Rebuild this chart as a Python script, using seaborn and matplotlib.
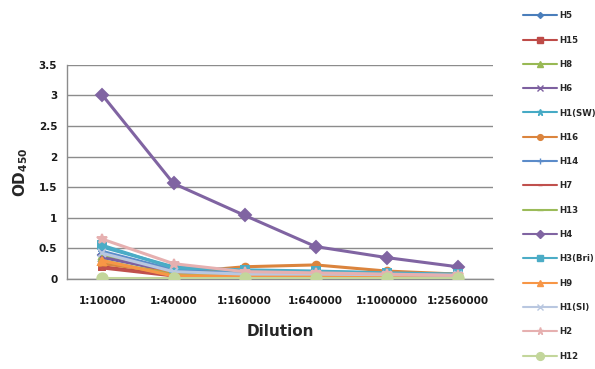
import matplotlib
matplotlib.use("Agg")
import matplotlib.pyplot as plt
import seaborn as sns
import pandas as pd
from matplotlib.lines import Line2D

dilutions = ['1:10000', '1:40000', '1:160000', '1:640000', '1:1000000', '1:2560000']

H5 = [0.40, 0.10, 0.07, 0.07, 0.06, 0.05]
H15 = [0.20, 0.06, 0.05, 0.05, 0.05, 0.04]
H8 = [0.38, 0.10, 0.07, 0.07, 0.06, 0.05]
H6 = [0.35, 0.12, 0.08, 0.08, 0.07, 0.06]
H1_SW = [0.52, 0.20, 0.12, 0.12, 0.10, 0.08]
H16 = [0.25, 0.10, 0.20, 0.23, 0.13, 0.08]
H14 = [0.45, 0.15, 0.08, 0.08, 0.07, 0.06]
H7 = [0.18, 0.05, 0.05, 0.05, 0.04, 0.04]
H13 = [0.30, 0.06, 0.05, 0.05, 0.05, 0.04]
H4 = [3.00, 1.56, 1.04, 0.53, 0.35, 0.20]
H3_Bri = [0.55, 0.18, 0.15, 0.13, 0.10, 0.08]
H9 = [0.30, 0.05, 0.05, 0.05, 0.04, 0.04]
H1_SI = [0.42, 0.12, 0.08, 0.08, 0.07, 0.06]
H2 = [0.65, 0.25, 0.12, 0.10, 0.08, 0.06]
H12 = [0.02, 0.02, 0.02, 0.02, 0.02, 0.02]

series_names = ['H5', 'H15', 'H8', 'H6', 'H1(SW)', 'H16', 'H14', 'H7', 'H13',
                'H4', 'H3(Bri)', 'H9', 'H1(SI)', 'H2', 'H12']
series_values = [H5, H15, H8, H6, H1_SW, H16, H14, H7, H13,
                 H4, H3_Bri, H9, H1_SI, H2, H12]

colors = ['#4A7EBB', '#BE4B48', '#98B954', '#7D60A0', '#46AAC5', '#DB843D',
          '#5B8BC9', '#C0504D', '#9BBB59', '#8064A2', '#4BACC6', '#F79646',
          '#B9C7E0', '#E6B0B0', '#C3D69B']
markers = ['D', 's', '^', 'x', '*', 'o', '+', '_', '_', 'D', 's', '^', 'x', '*', 'o']
msizes = [4, 5, 5, 5.5, 6.5, 5.5, 6, 4, 6, 6, 5.5, 6, 5.5, 7, 7.5]

rows = []
for name, vals in zip(series_names, series_values):
    for d, v in zip(dilutions, vals):
        rows.append({'series': name, 'Dilution': d, 'OD': v})
df = pd.DataFrame(rows)

sns.set_style("white")
plt.rcParams['font.family'] = ['DejaVu Sans']

fig = plt.figure(figsize=(5.95, 3.69), dpi=100)
ax = fig.add_axes([0.1126, 0.2439, 0.7160, 0.5808])

handles = []
for name, c, m, ms in zip(series_names, colors, markers, msizes):
    sub = df[df['series'] == name]
    sns.lineplot(data=sub, x='Dilution', y='OD', ax=ax, color=c, marker=m,
                 markersize=ms, linewidth=2.2, markeredgecolor=c,
                 markeredgewidth=1.4, sort=False, legend=False, zorder=3)
    handles.append(Line2D([0], [0], color=c, marker=m, markersize=ms * 0.75,
                          linewidth=1.5, markeredgecolor=c, markeredgewidth=1))

ax.set_xlim(-0.5, 5.5)
ax.set_ylim(0, 3.5)
ax.set_yticks([0, 0.5, 1, 1.5, 2, 2.5, 3, 3.5])
ax.set_yticklabels(['0', '0.5', '1', '1.5', '2', '2.5', '3', '3.5'])
ax.yaxis.grid(True, color='#8C8C8C', linewidth=1)
ax.set_axisbelow(True)
for s in ['top', 'right']:
    ax.spines[s].set_visible(False)
for s in ['left', 'bottom']:
    ax.spines[s].set_color('#8C8C8C')
    ax.spines[s].set_linewidth(1)
ax.tick_params(axis='y', direction='out', length=4, color='#8C8C8C',
               labelsize=7.5, pad=3)
ax.tick_params(axis='x', length=0, labelsize=7.5, pad=12)
for lab in ax.get_xticklabels() + ax.get_yticklabels():
    lab.set_fontweight('bold')
    lab.set_color('#1a1a1a')

ax.set_xlabel('Dilution', fontsize=11, fontweight='bold', labelpad=13)
ax.set_ylabel('OD$_{\\mathbf{450}}$', fontsize=11, fontweight='bold', labelpad=6)

leg = fig.legend(handles, series_names, loc='upper left',
                 bbox_to_anchor=(0.874, 0.979), frameon=False,
                 fontsize=6.2, handlelength=3.9, handletextpad=0.3,
                 labelspacing=1.78, borderaxespad=0)
for t in leg.get_texts():
    t.set_fontweight('bold')

fig.savefig('out.png', dpi=100)
